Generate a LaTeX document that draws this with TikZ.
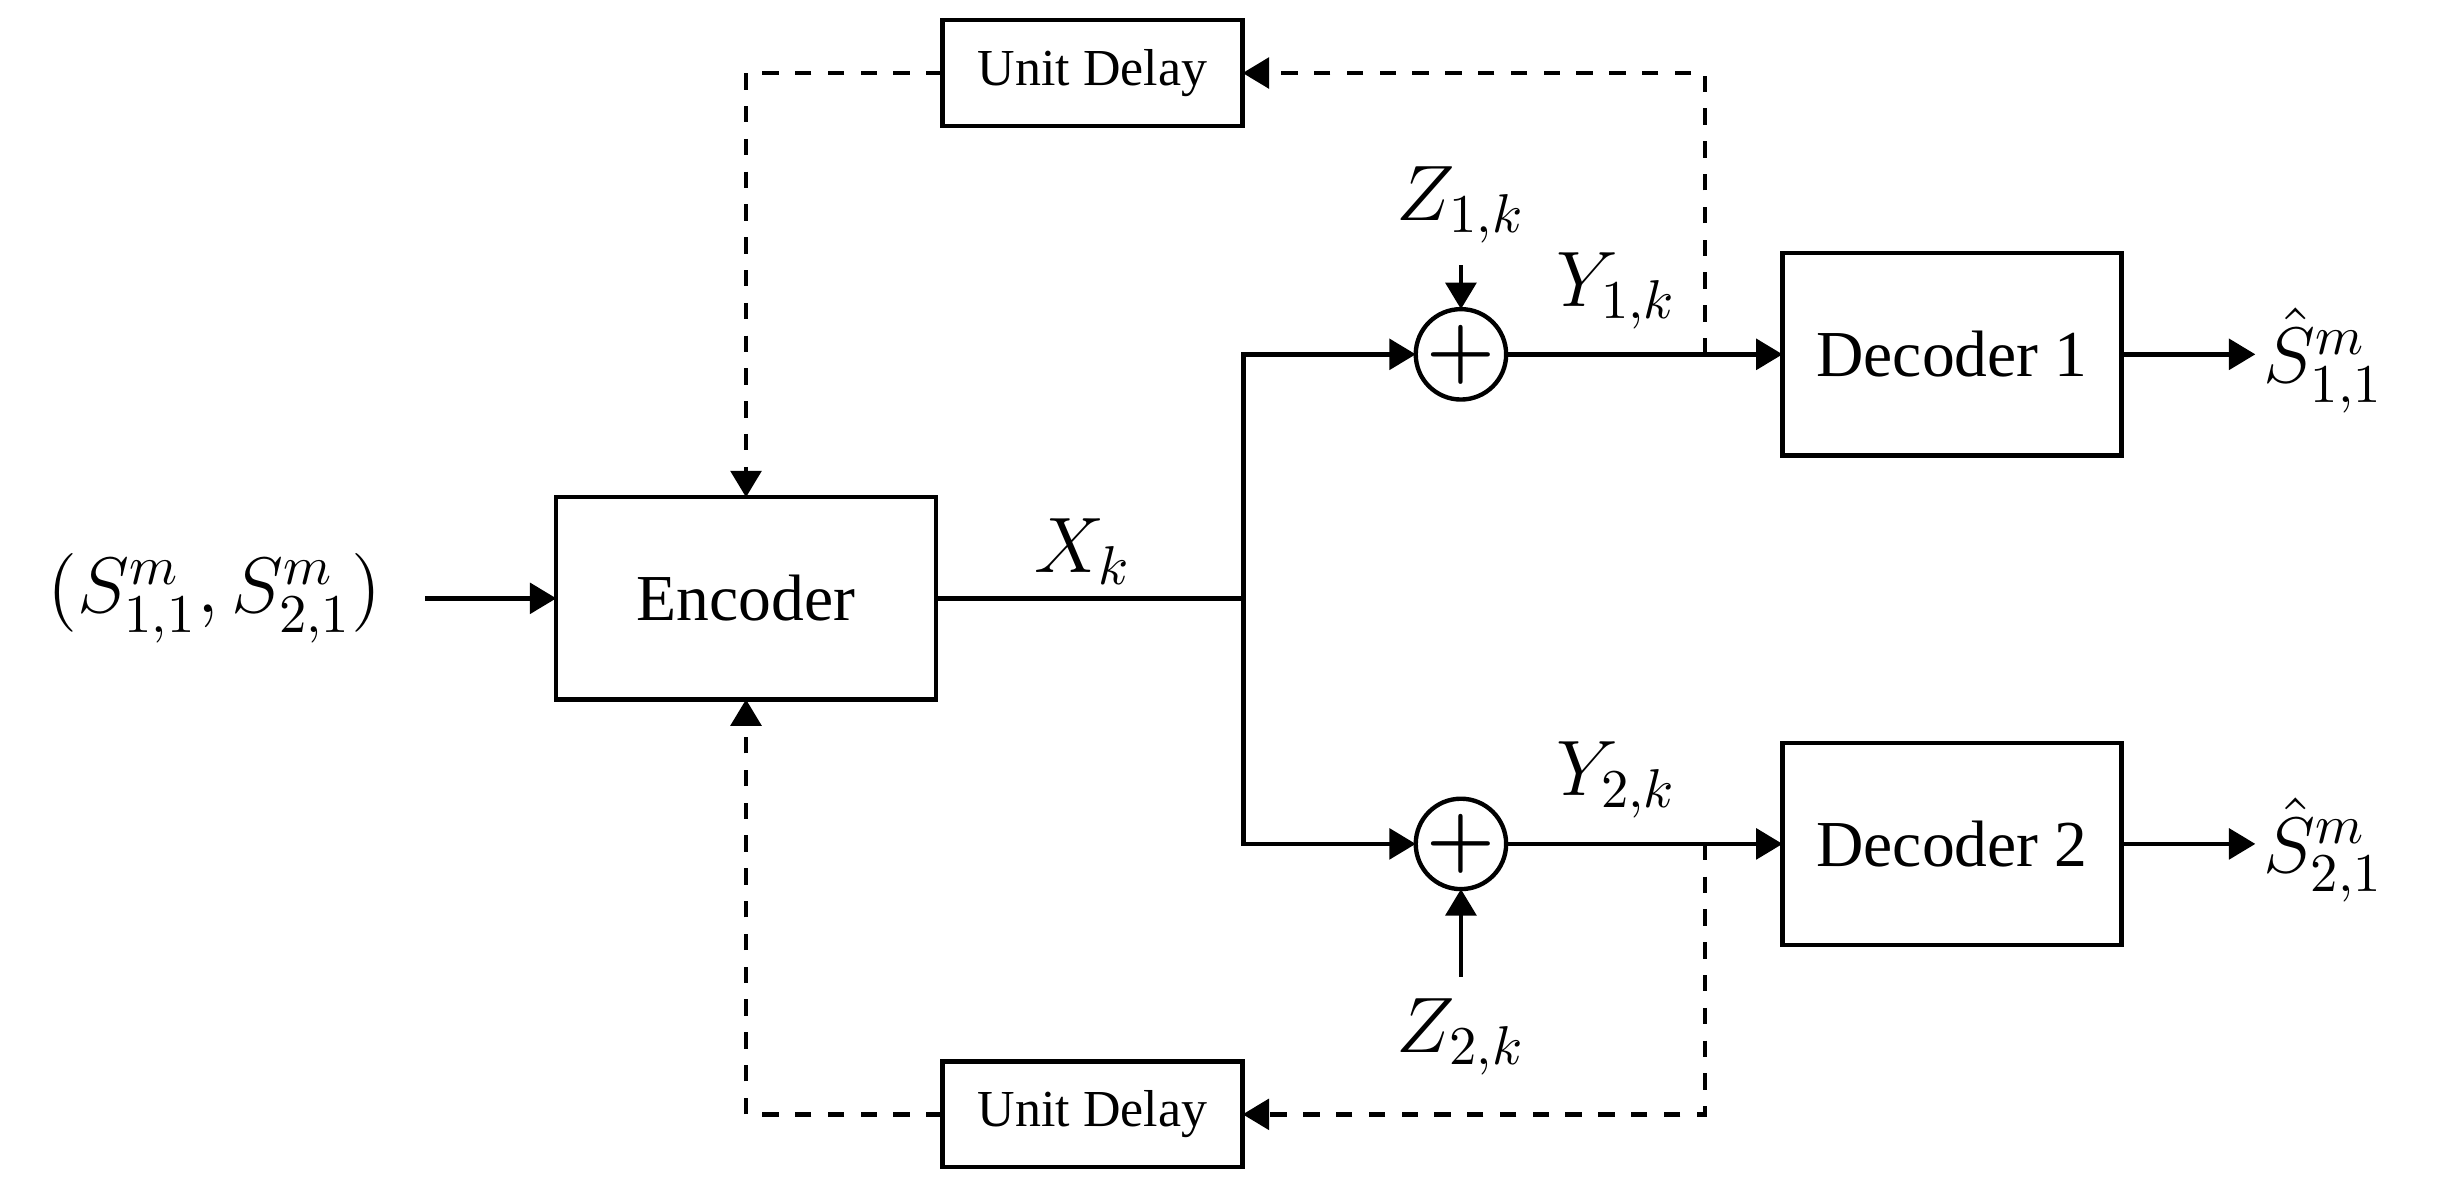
\documentclass[tikz,border=0pt]{standalone}
\usepackage{amsmath,amssymb}
\usepackage{fontspec}
\setmainfont{Liberation Serif}
\usetikzlibrary{arrows.meta,positioning}
\tikzset{
  >=Triangle,
  every node/.style={outer sep=0mm,inner sep=0mm}
}
\tikzset{block/.style={
    draw,thick,
    minimum width=#1,
    minimum height=1.3cm,
    font=\fontsize{12}{14}\selectfont
  },
  block/.default=2.44cm}
\tikzset{delay/.style={
    draw,
    minimum width=1.93cm,
    minimum height=0.68cm,
    font=\fontsize{9.5}{11}\selectfont
  }}
\tikzset{adder/.style={draw,thick,circle,minimum size=0.5cm,font=\Large}}
\tikzset{sig/.style={font=\fontsize{14}{16}\selectfont}}
\tikzset{fb/.style={dashed,thick,->}}

\begin{document}
\begin{tikzpicture}[x=0.01cm,y=-0.01cm,thick]
  \useasboundingbox (0,0) rectangle (1568,762);

  \node (Enc)  [block]               at (480,385)  {Encoder};
  \node (Dec1) [block=2.18cm]        at (1256,228) {Decoder 1};
  \node (Dec2) [block=2.18cm]        at (1256,543) {Decoder 2};
  \node (Add1) [adder]               at (940,228)  {$\boldsymbol{+}$};
  \node (Add2) [adder]               at (940,543)  {$\boldsymbol{+}$};
  \node (Del1) [delay]               at (703,47)   {Unit Delay};
  \node (Del2) [delay]               at (703,717)  {Unit Delay};

  \node (In)   [sig]                 at (138,385)  {$(S_{1,1}^m,S_{2,1}^m)$};
  \node (Out1) [sig]                 at (1495,232) {$\hat{S}_{1,1}^m$};
  \node (Out2) [sig]                 at (1495,547) {$\hat{S}_{2,1}^m$};
  \node (Z1)   [sig]                 at (940,132)  {$Z_{1,k}$};
  \node (Z2)   [sig]                 at (940,667)  {$Z_{2,k}$};
  \node (Xk)   [sig]                 at (697,355)  {$X_k$};
  \node (Y1)   [sig]                 at (1040,187) {$Y_{1,k}$};
  \node (Y2)   [sig]                 at (1040,502) {$Y_{2,k}$};

  \coordinate (Split) at (800,385);
  \coordinate (Tap1)  at (1097,228);
  \coordinate (Tap2)  at (1097,543);

  \draw [->] ([xshift=8pt] In.east) -- (Enc.west);
  \draw (Enc.east) -- (Split);
  \draw [->] (Split) |- (Add1.west);
  \draw [->] (Split) |- (Add2.west);
  \draw [->] (Add1.east) -- (Dec1.west);
  \draw [->] (Add2.east) -- (Dec2.west);
  \draw [->] ([yshift=-4pt] Z1.south) -- (Add1.north);
  \draw [->] ([yshift=4pt] Z2.north) -- (Add2.south);
  \draw [->] (Dec1.east) -- ([xshift=-1.5pt] Out1.west|-Dec1);
  \draw [->] (Dec2.east) -- ([xshift=-1.5pt] Out2.west|-Dec2);

  \draw [fb] (Tap1) |- (Del1.east);
  \draw [fb] (Del1.west) -| (Enc.north);
  \draw [fb] (Tap2) |- (Del2.east);
  \draw [fb] (Del2.west) -| (Enc.south);
\end{tikzpicture}
\end{document}
